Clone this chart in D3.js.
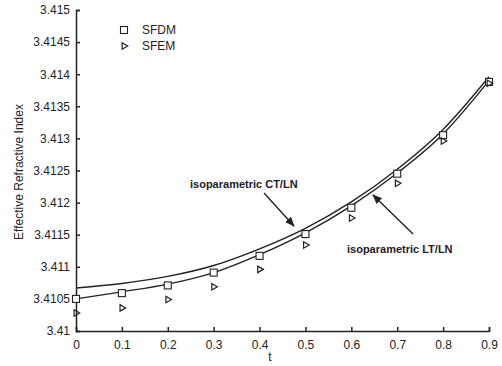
<!DOCTYPE html>
<html>
<head>
<meta charset="utf-8">
<script src="https://cdn.jsdelivr.net/npm/d3@7"></script>
<style>
  body { margin: 0; background: #fff; }
  svg text { font-family: "Liberation Sans", Arial, sans-serif; fill: #222; }
</style>
</head>
<body>
<div id="chart"></div>
<script>
// t values
const tValues = [0, 0.1, 0.2, 0.3, 0.4, 0.5, 0.6, 0.7, 0.8, 0.9];
// marker series
const sfdm = [3.4105, 3.41059, 3.41071, 3.41091, 3.41117, 3.41151, 3.41192, 3.41245, 3.41305, 3.41388];
const sfem = [3.41028, 3.41036, 3.41049, 3.41069, 3.41096, 3.41134, 3.41176, 3.4123, 3.41296, 3.41386];
// curves
const ctln = [3.41067, 3.41074, 3.41085, 3.41102, 3.41128, 3.4116, 3.41201, 3.41252, 3.41314, 3.41396];
const ltln = [3.4105, 3.41061, 3.41073, 3.41091, 3.41119, 3.41153, 3.41195, 3.41246, 3.41307, 3.4139];
const yTicks = [3.41, 3.4105, 3.411, 3.4115, 3.412, 3.4125, 3.413, 3.4135, 3.414, 3.4145, 3.415];
const yTickLabels = ["3.41", "3.4105", "3.411", "3.4115", "3.412", "3.4125", "3.413", "3.4135", "3.414", "3.4145", "3.415"];
const xTickLabels = ["0", "0.1", "0.2", "0.3", "0.4", "0.5", "0.6", "0.7", "0.8", "0.9"];

const width = 502, height = 366;
const svg = d3.select("#chart").append("svg")
    .attr("width", width)
    .attr("height", height);

const x = d3.scaleLinear().domain([0, 0.9]).range([76, 489]);
const y = d3.scaleLinear().domain([3.41, 3.415]).range([331, 10]);

// axes, ticks pointing inward
const xAxis = d3.axisBottom(x)
    .tickValues(tValues)
    .tickFormat((d, i) => xTickLabels[i])
    .tickSizeInner(-4)
    .tickSizeOuter(-4)
    .tickPadding(9);
const yAxis = d3.axisLeft(y)
    .tickValues(yTicks)
    .tickFormat((d, i) => yTickLabels[i])
    .tickSizeInner(-4)
    .tickSizeOuter(-4)
    .tickPadding(6);

const gx = svg.append("g")
    .attr("transform", `translate(0,${y(3.41)})`)
    .call(xAxis);
const gy = svg.append("g")
    .attr("transform", `translate(${x(0)},0)`)
    .call(yAxis);

[gx, gy].forEach(g => {
    g.selectAll("path, line").attr("stroke", "#222").attr("stroke-width", 1.5);
    g.selectAll("text").style("font-size", "12px").attr("fill", "#222");
});

// axis titles
svg.append("text")
    .attr("x", 270)
    .attr("y", 361)
    .attr("text-anchor", "middle")
    .style("font-size", "12px")
    .text("t");

svg.append("text")
    .attr("transform", "translate(23,172) rotate(-90)")
    .attr("text-anchor", "middle")
    .style("font-size", "12px")
    .text("Effective Refractive Index");

// curves
const line = d3.line()
    .x((d, i) => x(tValues[i]))
    .y(d => y(d))
    .curve(d3.curveMonotoneX);

[ctln, ltln].forEach(s => {
    svg.append("path")
        .datum(s)
        .attr("d", line)
        .attr("fill", "none")
        .attr("stroke", "#222")
        .attr("stroke-width", 1.4);
});

// markers
const sq = 7;
svg.selectAll(".sfdm")
    .data(sfdm)
    .enter()
    .append("rect")
    .attr("class", "sfdm")
    .attr("x", (d, i) => x(tValues[i]) - sq / 2)
    .attr("y", d => y(d) - sq / 2)
    .attr("width", sq)
    .attr("height", sq)
    .attr("fill", "#fff")
    .attr("stroke", "#222")
    .attr("stroke-width", 1.1);

const tri = d3.symbol().type(d3.symbolTriangle).size(18);
svg.selectAll(".sfem")
    .data(sfem)
    .enter()
    .append("path")
    .attr("class", "sfem")
    .attr("d", tri)
    .attr("transform", (d, i) => `translate(${x(tValues[i])},${y(d)}) rotate(90)`)
    .attr("fill", "none")
    .attr("stroke", "#222")
    .attr("stroke-width", 1.2);

// legend
const legend = svg.append("g").attr("transform", "translate(124,30)");
legend.append("rect")
    .attr("x", -3.5).attr("y", -3.5)
    .attr("width", sq).attr("height", sq)
    .attr("fill", "#fff").attr("stroke", "#222").attr("stroke-width", 1.1);
legend.append("path")
    .attr("d", tri)
    .attr("transform", "translate(0,16) rotate(90)")
    .attr("fill", "none").attr("stroke", "#222").attr("stroke-width", 1.2);
legend.append("text").attr("x", 18).attr("y", 4).style("font-size", "12px").text("SFDM");
legend.append("text").attr("x", 18).attr("y", 20).style("font-size", "12px").text("SFEM");

// annotations
svg.append("defs").append("marker")
    .attr("id", "arrow")
    .attr("viewBox", "0 0 10 10")
    .attr("refX", 9).attr("refY", 5)
    .attr("markerWidth", 7).attr("markerHeight", 7)
    .attr("orient", "auto")
    .append("path")
    .attr("d", "M0,1 L10,5 L0,9 Z")
    .attr("fill", "#222");

svg.append("text")
    .attr("x", 190).attr("y", 188)
    .style("font-size", "11px")
    .style("font-weight", "bold")
    .text("isoparametric CT/LN");
svg.append("line")
    .attr("x1", 264).attr("y1", 193)
    .attr("x2", 294).attr("y2", 226)
    .attr("stroke", "#222").attr("stroke-width", 1.4)
    .attr("marker-end", "url(#arrow)");

svg.append("text")
    .attr("x", 347).attr("y", 253)
    .style("font-size", "11px")
    .style("font-weight", "bold")
    .text("isoparametric LT/LN");
svg.append("line")
    .attr("x1", 413).attr("y1", 234)
    .attr("x2", 373).attr("y2", 195)
    .attr("stroke", "#222").attr("stroke-width", 1.4)
    .attr("marker-end", "url(#arrow)");
</script>
</body>
</html>
